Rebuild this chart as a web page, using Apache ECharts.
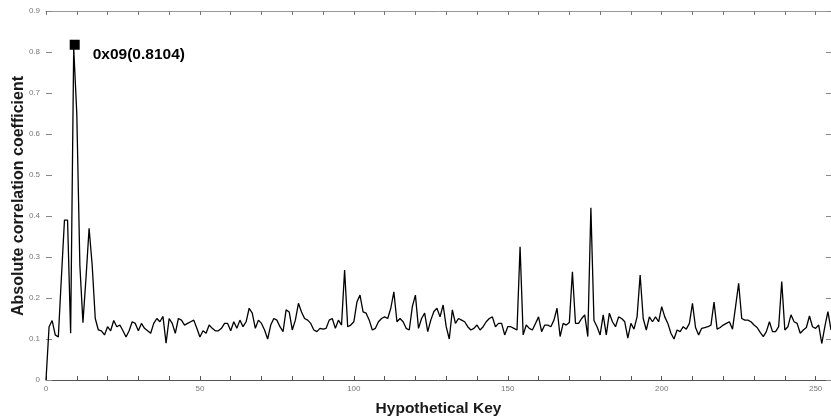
<!DOCTYPE html>
<html>
<head>
<meta charset="utf-8">
<script src="https://cdn.jsdelivr.net/npm/echarts@6/dist/echarts.min.js"></script>
<style>
  html, body { margin: 0; padding: 0; background: #fff; }
  #chart { width: 831px; height: 420px; }
</style>
</head>
<body>
<div id="chart"></div>
<script>
  // tick labels shown on the key axis
  var xTickLabels = [0, 50, 100, 150, 200, 250];
  var yTickLabels = [0, 0.1, 0.2, 0.3, 0.4, 0.5, 0.6, 0.7, 0.8, 0.9];

  // absolute correlation coefficient per hypothetical key byte (0x00..0xFF)
  var corr = [
    0, 0.13, 0.145, 0.11, 0.105, 0.25, 0.39, 0.39, 0.114, 0.8104, 0.65, 0.28, 0.14, 0.25, 0.37, 0.28,
    0.15, 0.122, 0.12, 0.11, 0.13, 0.12, 0.145, 0.13, 0.134, 0.12, 0.105, 0.12, 0.142, 0.138, 0.12, 0.138,
    0.126, 0.12, 0.114, 0.138, 0.15, 0.142, 0.155, 0.09, 0.15, 0.138, 0.114, 0.15, 0.146, 0.134, 0.138, 0.142,
    0.146, 0.126, 0.105, 0.12, 0.114, 0.134, 0.126, 0.12, 0.12, 0.126, 0.138, 0.138, 0.12, 0.142, 0.126, 0.146,
    0.13, 0.142, 0.175, 0.163, 0.126, 0.146, 0.138, 0.122, 0.10, 0.134, 0.15, 0.146, 0.13, 0.118, 0.171, 0.166,
    0.122, 0.146, 0.187, 0.166, 0.15, 0.146, 0.138, 0.122, 0.118, 0.126, 0.124, 0.126, 0.146, 0.15, 0.126, 0.146,
    0.134, 0.268, 0.13, 0.134, 0.142, 0.19, 0.207, 0.166, 0.163, 0.146, 0.122, 0.126, 0.142, 0.15, 0.154, 0.15,
    0.175, 0.215, 0.142, 0.15, 0.142, 0.126, 0.122, 0.179, 0.207, 0.126, 0.15, 0.163, 0.118, 0.146, 0.167, 0.175,
    0.154, 0.183, 0.13, 0.10, 0.171, 0.138, 0.15, 0.146, 0.142, 0.13, 0.122, 0.126, 0.134, 0.122, 0.13, 0.142,
    0.15, 0.154, 0.13, 0.138, 0.138, 0.11, 0.13, 0.13, 0.126, 0.122, 0.325, 0.11, 0.134, 0.126, 0.122, 0.138,
    0.154, 0.118, 0.134, 0.134, 0.13, 0.146, 0.175, 0.106, 0.138, 0.134, 0.14, 0.264, 0.138, 0.138, 0.15, 0.159,
    0.106, 0.42, 0.145, 0.13, 0.11, 0.159, 0.11, 0.163, 0.142, 0.13, 0.154, 0.15, 0.142, 0.102, 0.138, 0.124,
    0.154, 0.256, 0.15, 0.122, 0.154, 0.142, 0.154, 0.142, 0.179, 0.154, 0.138, 0.114, 0.10, 0.122, 0.118, 0.13,
    0.124, 0.138, 0.187, 0.128, 0.11, 0.126, 0.128, 0.13, 0.134, 0.19, 0.124, 0.128, 0.134, 0.138, 0.142, 0.124,
    0.179, 0.236, 0.15, 0.146, 0.146, 0.142, 0.134, 0.128, 0.116, 0.106, 0.118, 0.142, 0.118, 0.118, 0.13, 0.24,
    0.122, 0.13, 0.159, 0.142, 0.138, 0.114, 0.122, 0.128, 0.156, 0.13, 0.126, 0.134, 0.089, 0.13, 0.167, 0.122
  ];
  var keys = corr.map(function (v, i) { return i; });

  // best key guess = highest peak
  var peakIdx = 0;
  corr.forEach(function (v, i) { if (v > corr[peakIdx]) peakIdx = i; });
  var peakText = '0x' + ('0' + peakIdx.toString(16).toUpperCase()).slice(-2) +
    '(' + corr[peakIdx].toFixed(4) + ')';

  var myChart = echarts.init(document.getElementById('chart'));
  var tickGray = '#777';
  var option = {
    animation: false,
    backgroundColor: '#fff',
    textStyle: { fontFamily: 'Liberation Sans, Arial, sans-serif' },
    grid: { left: 46, right: 0, top: 11, bottom: 40, containLabel: false, outerBoundsMode: 'none' },
    // y axis title, placed by hand (axis name kept getting pushed to the edge)
    graphic: [
      {
        type: 'text',
        x: 19, y: 196,
        rotation: Math.PI / 2,
        style: {
          text: 'Absolute correlation coefficient',
          align: 'center', verticalAlign: 'middle',
          font: 'bold 16px "Liberation Sans", Arial, sans-serif',
          fill: '#1a1a1a'
        }
      }
    ],
    xAxis: [
      {
        type: 'value', position: 'bottom',
        min: 0, max: keys[keys.length - 1], interval: 10,
        name: 'Hypothetical Key', nameLocation: 'middle', nameGap: 21,
        nameTextStyle: { fontSize: 15.5, fontWeight: 'bold', color: '#1a1a1a' },
        axisLine: { onZero: false, lineStyle: { color: '#555', width: 1 } },
        axisTick: { inside: true, length: 4, lineStyle: { color: '#555' } },
        axisLabel: {
          fontSize: 8, color: tickGray, margin: 5, showMaxLabel: false,
          formatter: function (v) { return xTickLabels.indexOf(v) >= 0 ? v : ''; }
        },
        splitLine: { show: false }
      },
      {
        type: 'value', position: 'top',
        min: 0, max: keys[keys.length - 1], interval: 10,
        axisLine: { show: true, onZero: false, lineStyle: { color: '#999', width: 1 } },
        axisTick: { show: true, inside: true, length: 4, lineStyle: { color: '#777' } },
        axisLabel: { show: false },
        splitLine: { show: false }
      }
    ],
    yAxis: [
      {
        type: 'value', position: 'left',
        min: yTickLabels[0], max: yTickLabels[yTickLabels.length - 1], interval: 0.1,
        axisLine: { show: false, onZero: false },
        axisTick: { show: true, inside: true, length: 6, lineStyle: { color: '#888' } },
        axisLabel: { fontSize: 8, color: tickGray, margin: 6 },
        splitLine: { show: false }
      },
      {
        type: 'value', position: 'right',
        min: yTickLabels[0], max: yTickLabels[yTickLabels.length - 1], interval: 0.1,
        axisLine: { show: false, onZero: false },
        axisTick: { show: true, inside: true, length: 5, lineStyle: { color: '#888' } },
        axisLabel: { show: false },
        splitLine: { show: false }
      }
    ],
    series: [
      {
        type: 'line',
        xAxisIndex: 0, yAxisIndex: 0,
        data: keys.map(function (k, i) { return [k, corr[i]]; }),
        showSymbol: false,
        lineStyle: { color: '#000', width: 1.3 },
        z: 2
      },
      {
        // peak marker, bound to the top/right axes (same ranges) so those axes render
        type: 'scatter',
        xAxisIndex: 1, yAxisIndex: 1,
        data: [[keys[peakIdx], corr[peakIdx]]],
        symbol: 'rect', symbolSize: 10, symbolOffset: [1, -3],
        itemStyle: { color: '#000', opacity: 1 },
        label: {
          show: true, position: 'right', distance: 13, offset: [0, 10],
          formatter: peakText,
          fontSize: 15.5, fontWeight: 'bold', color: '#000'
        },
        z: 3
      }
    ]
  };
  myChart.setOption(option);
</script>
</body>
</html>
